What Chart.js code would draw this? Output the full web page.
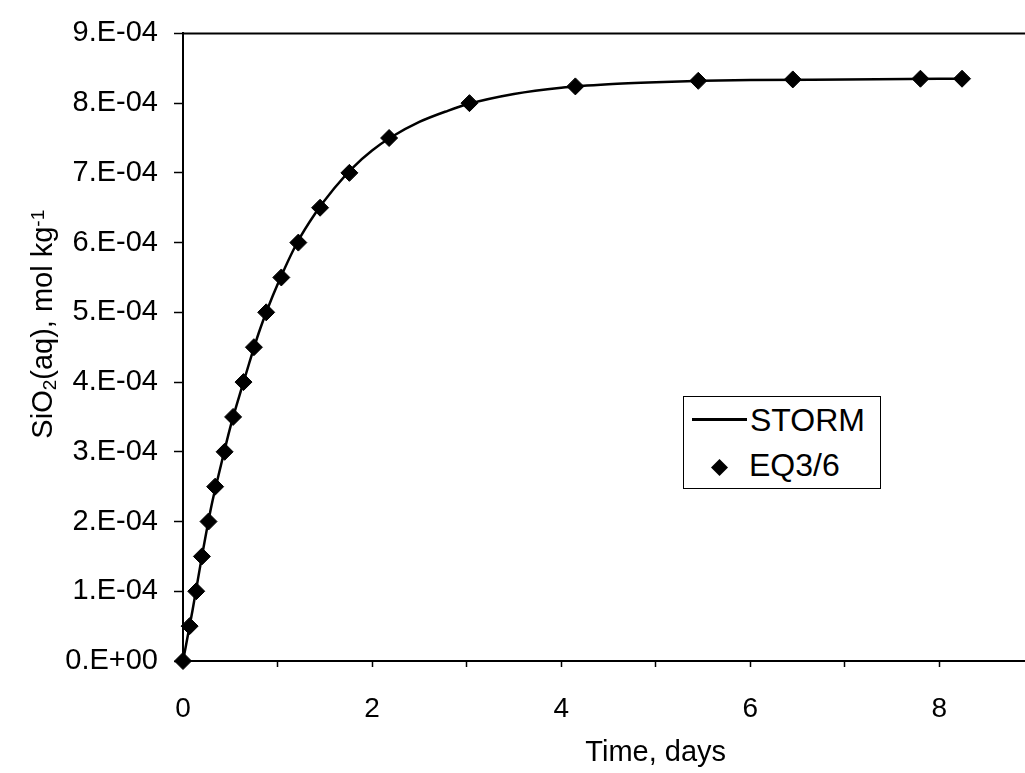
<!DOCTYPE html>
<html>
<head>
<meta charset="utf-8">
<script src="https://cdn.jsdelivr.net/npm/chart.js@4.4.1/dist/chart.umd.min.js"></script>
<style>
  html, body { margin: 0; padding: 0; overflow: hidden; background: #fff; }
  #wrap { position: relative; width: 1025px; height: 773px; overflow: hidden; background: #fff; }
  #chart { position: absolute; left: 0; top: 0; }
  #legend {
    position: absolute; left: 683px; top: 396px; width: 198px; height: 93px;
    border: 1.5px solid #000; box-sizing: border-box; background: #fff;
    font-family: "Liberation Sans", Arial, Helvetica, sans-serif; font-size: 32px; color: #000;
  }
  #legend .item { position: absolute; white-space: nowrap; line-height: 32px; }
  #legend .sample { position: absolute; }
</style>
</head>
<body>
<div id="wrap">
  <canvas id="chart" width="1169" height="773"></canvas>
  <div id="legend"></div>
</div>
<script>
// ---------- data ----------
const xTickValues = [0, 1, 2, 3, 4, 5, 6, 7, 8, 9, 10];
const xTickLabels = ['0', '', '2', '', '4', '', '6', '', '8', '', '10'];
const yTickValues = [0, 1e-4, 2e-4, 3e-4, 4e-4, 5e-4, 6e-4, 7e-4, 8e-4, 9e-4];
const yTickLabels = ['0.E+00', '1.E-04', '2.E-04', '3.E-04', '4.E-04', '5.E-04', '6.E-04', '7.E-04', '8.E-04', '9.E-04'];

const seriesNames = ['STORM', 'EQ3/6'];

// STORM (continuous curve)
const stormTime = [0, 0.1, 0.2, 0.3, 0.4, 0.5, 0.6, 0.7, 0.8, 0.9, 1.0, 1.2, 1.4, 1.6, 1.8, 2.0, 2.2, 2.5, 2.8, 3.0, 3.5, 4.0, 4.5, 5.0, 5.5, 6.0, 7.0, 8.0, 8.3];
const stormSiO2 = [0, 0.72e-4, 1.5e-4, 2.22e-4, 2.8e-4, 3.35e-4, 3.82e-4, 4.27e-4, 4.7e-4, 5.07e-4, 5.4e-4, 5.98e-4, 6.42e-4, 6.78e-4, 7.08e-4, 7.32e-4, 7.51e-4, 7.73e-4, 7.89e-4, 7.98e-4, 8.13e-4, 8.22e-4, 8.27e-4, 8.30e-4, 8.32e-4, 8.33e-4, 8.34e-4, 8.35e-4, 8.35e-4];

// EQ3/6 (markers)
const eqTime = [0, 0.07, 0.14, 0.20, 0.27, 0.34, 0.44, 0.53, 0.64, 0.75, 0.88, 1.04, 1.22, 1.45, 1.76, 2.18, 3.03, 4.15, 5.45, 6.45, 7.80, 8.24];
const eqSiO2 = [0, 0.5e-4, 1.0e-4, 1.5e-4, 2.0e-4, 2.5e-4, 3.0e-4, 3.5e-4, 4.0e-4, 4.5e-4, 5.0e-4, 5.5e-4, 6.0e-4, 6.5e-4, 7.0e-4, 7.5e-4, 8.0e-4, 8.24e-4, 8.32e-4, 8.34e-4, 8.35e-4, 8.35e-4];

const xTitle = 'Time, days';
// y title pieces: [text, kind] kind 0 = normal, 1 = subscript, 2 = superscript
const yTitleParts = [['SiO', 0], ['2', 1], ['(aq), mol kg', 0], ['-1', 2]];

// ---------- chart ----------
const FONT = '"Liberation Sans", Arial, Helvetica, sans-serif';
Chart.defaults.font.family = FONT;
Chart.defaults.color = '#000';

const frameAndTitlePlugin = {
  id: 'frameAndTitle',
  afterDraw(chart) {
    const ctx = chart.ctx;
    const a = chart.chartArea;
    ctx.save();
    ctx.strokeStyle = '#000';
    ctx.lineWidth = 2;
    ctx.beginPath();
    ctx.moveTo(a.left, a.top);
    ctx.lineTo(a.right, a.top);
    ctx.lineTo(a.right, a.bottom);
    ctx.stroke();

    // y-axis title with sub/superscript
    const base = 29, small = 19;
    const parts = yTitleParts.map(([t, k]) => {
      ctx.font = (k === 0 ? base : small) + 'px ' + FONT;
      return { t, k, w: ctx.measureText(t).width };
    });
    const total = parts.reduce((s, p) => s + p.w, 0);
    ctx.translate(52, (a.top + a.bottom) / 2 - 23);
    ctx.rotate(-Math.PI / 2);
    ctx.fillStyle = '#000';
    ctx.textBaseline = 'alphabetic';
    ctx.textAlign = 'left';
    let x = -total / 2;
    for (const p of parts) {
      ctx.font = (p.k === 0 ? base : small) + 'px ' + FONT;
      const dy = p.k === 1 ? 4 : (p.k === 2 ? -8 : 0);
      ctx.fillText(p.t, x, dy);
      x += p.w;
    }
    ctx.restore();
  }
};

const chart = new Chart(document.getElementById('chart'), {
  type: 'scatter',
  data: {
    datasets: [
      {
        label: seriesNames[1],
        data: eqTime.map((t, i) => ({ x: t, y: eqSiO2[i] })),
        showLine: false,
        pointStyle: 'rectRot',
        pointRadius: 8.5,
        pointHoverRadius: 8.5,
        pointBackgroundColor: '#000',
        pointBorderColor: '#000',
        pointBorderWidth: 1,
        clip: false,
        order: 0
      },
      {
        label: seriesNames[0],
        data: stormTime.map((t, i) => ({ x: t, y: stormSiO2[i] })),
        showLine: true,
        borderColor: '#000',
        borderWidth: 2.5,
        pointRadius: 0,
        pointHoverRadius: 0,
        cubicInterpolationMode: 'monotone',
        fill: false,
        clip: false,
        order: 1
      }
    ]
  },
  options: {
    responsive: false,
    animation: false,
    events: [],
    layout: { padding: { left: 0, top: 29, right: 17, bottom: 0 } },
    plugins: { legend: { display: false }, tooltip: { enabled: false } },
    scales: {
      x: {
        type: 'linear',
        min: 0,
        max: 10,
        afterBuildTicks: (scale) => { scale.ticks = xTickValues.map(v => ({ value: v })); },
        afterFit: (scale) => { scale.height = 112; },
        ticks: {
          callback: (v, i) => xTickLabels[i],
          font: { size: 28 },
          color: '#000',
          padding: 25,
          maxRotation: 0,
          autoSkip: false
        },
        grid: { display: true, drawOnChartArea: false, drawTicks: true, tickLength: 6, tickColor: '#000', tickWidth: 1.5 },
        border: { display: true, color: '#000', width: 2 },
        title: { display: true, text: xTitle, font: { size: 29 }, color: '#000', padding: { top: 0, bottom: 3 } }
      },
      y: {
        type: 'linear',
        min: 0,
        max: 9e-4,
        afterBuildTicks: (scale) => { scale.ticks = yTickValues.map(v => ({ value: v })); },
        afterFit: (scale) => { scale.width = 183; },
        ticks: {
          callback: (v, i) => yTickLabels[i],
          font: { size: 29 },
          color: '#000',
          padding: 16,
          autoSkip: false
        },
        grid: { display: true, drawOnChartArea: false, drawTicks: true, tickLength: 9, tickColor: '#000', tickWidth: 1.5 },
        border: { display: true, color: '#000', width: 2 }
      }
    }
  },
  plugins: [frameAndTitlePlugin]
});

// ---------- legend (HTML, built from the datasets) ----------
(function buildLegend() {
  const lg = document.getElementById('legend');
  const storm = chart.data.datasets.find(d => d.label === seriesNames[0]);
  const eq = chart.data.datasets.find(d => d.label === seriesNames[1]);

  const line = document.createElement('div');
  line.className = 'sample';
  Object.assign(line.style, { left: '7.5px', top: '21px', width: '55px', height: storm.borderWidth + 'px', background: storm.borderColor });
  lg.appendChild(line);

  const t1 = document.createElement('div');
  t1.className = 'item';
  Object.assign(t1.style, { left: '66px', top: '7px' });
  t1.textContent = storm.label;
  lg.appendChild(t1);

  const svgNS = 'http://www.w3.org/2000/svg';
  const svg = document.createElementNS(svgNS, 'svg');
  svg.setAttribute('width', '17'); svg.setAttribute('height', '17');
  svg.setAttribute('class', 'sample');
  svg.style.left = '27px'; svg.style.top = '62px'; svg.style.position = 'absolute';
  const poly = document.createElementNS(svgNS, 'polygon');
  poly.setAttribute('points', '8.5,0 17,8.5 8.5,17 0,8.5');
  poly.setAttribute('fill', eq.pointBackgroundColor);
  svg.appendChild(poly);
  lg.appendChild(svg);

  const t2 = document.createElement('div');
  t2.className = 'item';
  Object.assign(t2.style, { left: '65px', top: '52px' });
  t2.textContent = eq.label;
  lg.appendChild(t2);
})();
</script>
</body>
</html>
